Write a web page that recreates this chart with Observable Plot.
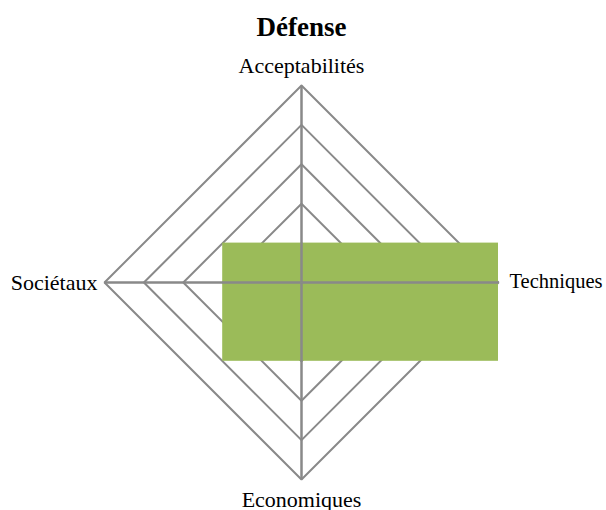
<!DOCTYPE html>
<html>
<head>
<meta charset="utf-8">
<script src="https://cdn.jsdelivr.net/npm/d3@7"></script>
<script src="https://cdn.jsdelivr.net/npm/@observablehq/plot@0.6"></script>
<style>
  html, body { margin: 0; padding: 0; background: #fff; }
  svg { display: block; }
</style>
</head>
<body>
<div id="chart"></div>
<script>
// Data
const title = "Défense";
const axes = ["Acceptabilités", "Techniques", "Economiques", "Sociétaux"];
const values = [1, 5, 2, 2];
const levels = [1, 2, 3, 4, 5];
const maxLevel = 5;

// directions: top, right, bottom, left
const dirs = {"Acceptabilités": [0, 1], "Techniques": [1, 0], "Economiques": [0, -1], "Sociétaux": [-1, 0]};

const ringPts = [];
for (const L of levels) {
  for (const a of [...axes, axes[0]]) {
    ringPts.push({level: L, x: dirs[a][0] * L, y: dirs[a][1] * L});
  }
}
const spokes = axes.map(a => ({axis: a, x: dirs[a][0] * maxLevel, y: dirs[a][1] * maxLevel}));
const v = Object.fromEntries(axes.map((a, i) => [a, values[i]]));
const area = [{
  x1: -v["Sociétaux"], x2: v["Techniques"],
  y1: -v["Economiques"], y2: v["Acceptabilités"]
}];

const u = 39.4;
const W = 606, H = 510, cx = 301, cy = 282;

const labelOpts = {
  "Acceptabilités": {textAnchor: "middle", lineAnchor: "bottom", dx: 0, dy: -13, fontSize: 22},
  "Techniques": {textAnchor: "start", lineAnchor: "middle", dx: 11, dy: -1, fontSize: 20.5},
  "Economiques": {textAnchor: "middle", lineAnchor: "bottom", dx: 0, dy: 27, fontSize: 22},
  "Sociétaux": {textAnchor: "end", lineAnchor: "middle", dx: -7, dy: 0, fontSize: 22}
};

const plot = Plot.plot({
  width: W,
  height: H,
  margin: 0,
  style: {fontFamily: "'Liberation Serif', 'Times New Roman', serif", background: "#fff"},
  x: {domain: [-cx / u, (W - cx) / u], range: [0, W], axis: null},
  y: {domain: [-(H - cy) / u, cy / u], range: [H, 0], axis: null},
  marks: [
    Plot.line(ringPts, {x: "x", y: "y", z: "level", stroke: "#898989", strokeWidth: 2, strokeLinejoin: "miter"}),
    Plot.rect(area, {x1: "x1", x2: "x2", y1: "y1", y2: "y2", fill: "#9BBB59", inset: 0}),
    Plot.link(spokes, {x1: 0, y1: 0, x2: "x", y2: "y", stroke: "#898989", strokeWidth: 2.5}),
    ...axes.map(a => Plot.text(spokes.filter(d => d.axis === a), {
      x: "x", y: "y", text: "axis", fill: "#000", ...labelOpts[a]
    })),
    Plot.text([title], {frameAnchor: "top", lineAnchor: "bottom", dy: 35, dx: -2, fontSize: 27, fontWeight: "bold", fill: "#000"})
  ]
});
document.getElementById("chart").append(plot);
</script>
</body>
</html>
